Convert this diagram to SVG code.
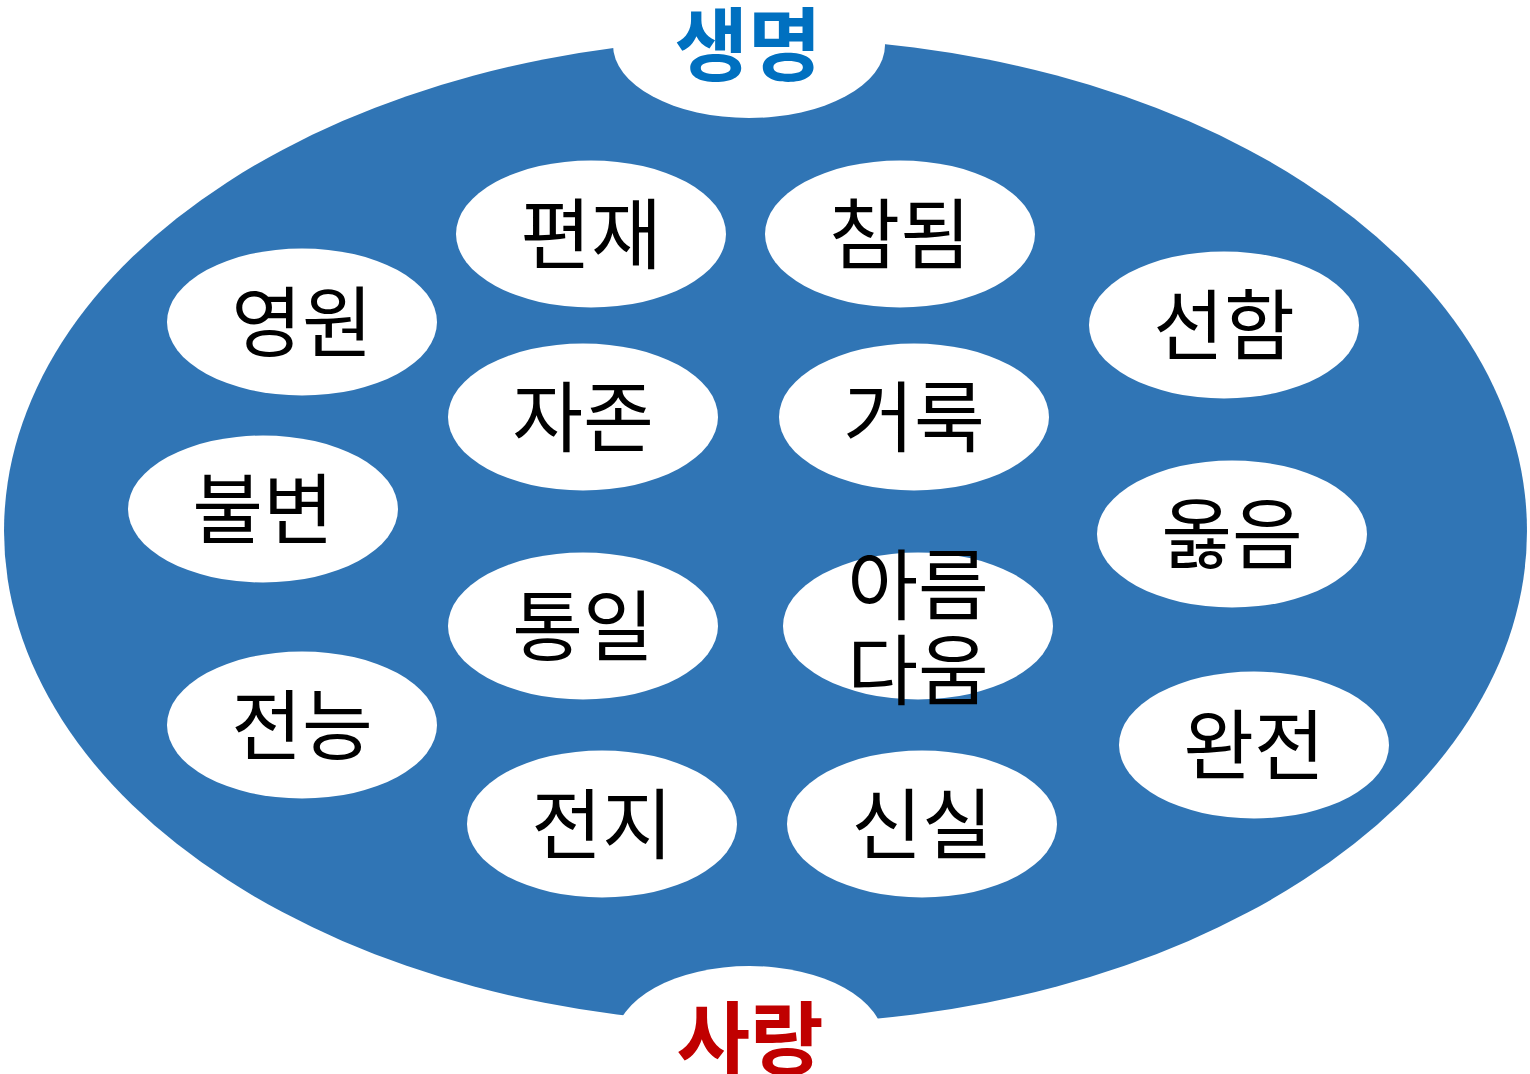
<svg xmlns="http://www.w3.org/2000/svg" width="1530" height="1074" viewBox="0 0 1530 1074">
<style>
.n{fill:#fff}
.t{font-family:"Noto Sans CJK KR","Noto Sans",sans-serif;font-size:77px;fill:#000;text-anchor:middle;dominant-baseline:central}
.h{font-family:"Noto Sans CJK KR","Noto Sans",sans-serif;font-size:80px;font-weight:bold;text-anchor:middle;dominant-baseline:central}
</style>
<rect width="1530" height="1074" fill="#fff"/>
<g id="outer">
<ellipse cx="765.5" cy="531" rx="761.5" ry="493" fill="#3075B5"/>
</g>
<g id="top">
<ellipse cx="749" cy="45" rx="136" ry="73" class="n"/>
<text x="748" y="39" class="h" fill="#0070C0">생명</text>
</g>
<g id="bottom">
<ellipse cx="749.5" cy="1040" rx="134" ry="74" class="n"/>
<text x="750" y="1033" class="h" fill="#C00000">사랑</text>
</g>
<g id="connectors"></g>
<g id="n1"><ellipse cx="591" cy="234" rx="135" ry="73.5" class="n"/><text x="591" y="229" class="t">편재</text></g>
<g id="n2"><ellipse cx="900" cy="234" rx="135" ry="73.5" class="n"/><text x="900" y="229" class="t">참됨</text></g>
<g id="n3"><ellipse cx="302" cy="322" rx="135" ry="73.5" class="n"/><text x="302" y="317" class="t">영원</text></g>
<g id="n4"><ellipse cx="1224" cy="325" rx="135" ry="73.5" class="n"/><text x="1224" y="320" class="t">선함</text></g>
<g id="n5"><ellipse cx="583" cy="417" rx="135" ry="73.5" class="n"/><text x="583" y="412" class="t">자존</text></g>
<g id="n6"><ellipse cx="914" cy="417" rx="135" ry="73.5" class="n"/><text x="914" y="412" class="t">거룩</text></g>
<g id="n7"><ellipse cx="263" cy="509" rx="135" ry="73.5" class="n"/><text x="263" y="504" class="t">불변</text></g>
<g id="n8"><ellipse cx="1232" cy="534" rx="135" ry="73.5" class="n"/><text x="1232" y="529" class="t">옳음</text></g>
<g id="n9"><ellipse cx="583" cy="626" rx="135" ry="73.5" class="n"/><text x="583" y="621" class="t">통일</text></g>
<g id="n10"><ellipse cx="918" cy="626" rx="135" ry="73.5" class="n"/><text x="918" y="580" class="t">아름</text><text x="918" y="665" class="t">다움</text></g>
<g id="n11"><ellipse cx="302" cy="725" rx="135" ry="73.5" class="n"/><text x="302" y="720" class="t">전능</text></g>
<g id="n12"><ellipse cx="1254" cy="745" rx="135" ry="73.5" class="n"/><text x="1254" y="740" class="t">완전</text></g>
<g id="n13"><ellipse cx="602" cy="824" rx="135" ry="73.5" class="n"/><text x="602" y="819" class="t">전지</text></g>
<g id="n14"><ellipse cx="922" cy="824" rx="135" ry="73.5" class="n"/><text x="922" y="819" class="t">신실</text></g>
</svg>
